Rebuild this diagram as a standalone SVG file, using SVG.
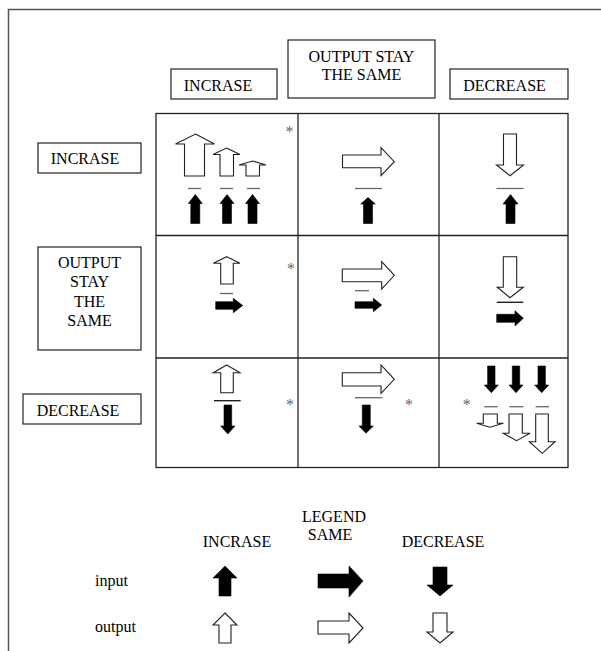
<svg xmlns="http://www.w3.org/2000/svg" width="601" height="651" viewBox="0 0 601 651">
<style>
text{font-family:"Liberation Serif","Times New Roman",serif;font-size:16px;fill:#000}
.c{text-anchor:middle}
.box{fill:#fff;stroke:#222;stroke-width:1.2}
.grid{fill:none;stroke:#222;stroke-width:1.3}
.frame{fill:none;stroke:#555;stroke-width:1.5}
.ho{fill:#fff;stroke:#222;stroke-width:1.1;stroke-linejoin:miter}
.bk{fill:#000;stroke:#000;stroke-width:0.6}
.dg{stroke:#666;stroke-width:1.3}
.db{stroke:#111;stroke-width:1.3}
.ast{font-size:16px;fill:#666;text-anchor:middle}
</style>
<rect width="601" height="651" fill="#fff"/>
<rect class="frame" x="8.5" y="9.5" width="640" height="700"/>

<g id="col-increase"><rect class="box" x="171" y="69" width="106" height="30"/><text class="c" x="218" y="91">INCRASE</text></g>
<g id="col-same"><rect class="box" x="288" y="40" width="147" height="58"/><text class="c" x="361.5" y="62">OUTPUT STAY</text><text class="c" x="361.5" y="80">THE SAME</text></g>
<g id="col-decrease"><rect class="box" x="450" y="69" width="118" height="30"/><text class="c" x="504.5" y="91">DECREASE</text></g>

<g id="row-increase"><rect class="box" x="38" y="143" width="103" height="30"/><text class="c" x="85" y="164">INCRASE</text></g>
<g id="row-same"><rect class="box" x="38" y="247" width="103" height="103"/><text class="c" x="89.5" y="268">OUTPUT</text><text class="c" x="89.5" y="287">STAY</text><text class="c" x="89.5" y="306.5">THE</text><text class="c" x="89.5" y="325.5">SAME</text></g>
<g id="row-decrease"><rect class="box" x="23" y="394" width="118" height="30"/><text class="c" x="78" y="416">DECREASE</text></g>

<g id="grid">
<rect class="grid" x="156" y="113.5" width="412" height="354"/>
<line class="grid" x1="298" y1="113.5" x2="298" y2="467.5"/>
<line class="grid" x1="439" y1="113.5" x2="439" y2="467.5"/>
<line class="grid" x1="156" y1="235.5" x2="568" y2="235.5"/>
<line class="grid" x1="156" y1="358" x2="568" y2="358"/>
</g>

<g id="cell-1-1">
<polygon class="ho" points="195.5,134 214.5,144 204.5,144 204.5,176 184.5,176 184.5,144 175.5,144"/>
<polygon class="ho" points="226.5,148 240,154.5 233.5,154.5 233.5,176 220,176 220,154.5 213,154.5"/>
<polygon class="ho" points="252.5,161 266,165 259.5,165 259.5,176 246,176 246,165 239,165"/>
<line class="dg" x1="188" y1="188.5" x2="201" y2="188.5"/>
<line class="dg" x1="220" y1="188.5" x2="233" y2="188.5"/>
<line class="dg" x1="247" y1="188.5" x2="260" y2="188.5"/>
<polygon class="bk" points="195.3,194.5 202.3,203.5 199.8,203.5 199.8,223.5 190.8,223.5 190.8,203.5 188.3,203.5"/>
<polygon class="bk" points="227,194.5 234,203.5 231.5,203.5 231.5,223.5 222.5,223.5 222.5,203.5 220,203.5"/>
<polygon class="bk" points="252.5,194.5 259.5,203.5 257,203.5 257,223.5 248,223.5 248,203.5 245.5,203.5"/>
<text class="ast" x="289.5" y="137">*</text>
</g>

<g id="cell-1-2">
<polygon class="ho" points="342.5,155 381,155 381,147.7 394.3,161.7 381,175.7 381,167.7 342.5,167.7"/>
<line class="dg" x1="355" y1="188.5" x2="382" y2="188.5"/>
<polygon class="bk" points="368,197.5 375.3,204 372.5,204 372.5,223.5 363.5,223.5 363.5,204 360.7,204"/>
</g>

<g id="cell-1-3">
<polygon class="ho" points="503.5,134 516.5,134 516.5,165 523.5,165 510,175.7 496.5,165 503.5,165"/>
<line class="dg" x1="496.5" y1="188.5" x2="523.5" y2="188.5"/>
<polygon class="bk" points="510.5,194.5 518,204 515,204 515,223.5 506,223.5 506,204 503,204"/>
</g>

<g id="cell-2-1">
<polygon class="ho" points="226.7,256.7 240,263.3 233.3,263.3 233.3,284 220.7,284 220.7,263.3 213.3,263.3"/>
<line class="dg" x1="220" y1="293.5" x2="233" y2="293.5"/>
<polygon class="bk" points="215.7,301.7 233.3,301.7 233.3,298.3 242.7,305.5 233.3,312.7 233.3,309.3 215.7,309.3"/>
<text class="ast" x="291" y="274">*</text>
</g>

<g id="cell-2-2">
<polygon class="ho" points="342.3,269 381.7,269 381.7,261.7 394.3,275.3 381.7,289 381.7,281.7 342.3,281.7"/>
<line class="dg" x1="355" y1="290.7" x2="369" y2="290.7"/>
<polygon class="bk" points="355,301.7 373.3,301.7 373.3,298.3 381.7,305 373.3,311.7 373.3,308.3 355,308.3"/>
</g>

<g id="cell-2-3">
<polygon class="ho" points="503.3,256.7 516.7,256.7 516.7,287.3 523.3,287.3 510,297.7 497.3,287.3 503.3,287.3"/>
<line class="db" x1="496.7" y1="302.3" x2="523.3" y2="302.3"/>
<polygon class="bk" points="496.7,314.3 515,314.3 515,310.7 523.3,318.3 515,326 515,322.3 496.7,322.3"/>
</g>

<g id="cell-3-1">
<polygon class="ho" points="226.7,365 240,372.7 233.3,372.7 233.3,392.7 220.7,392.7 220.7,372.7 213.3,372.7"/>
<line class="db" x1="214" y1="400.7" x2="240.7" y2="400.7"/>
<polygon class="bk" points="224,405 231.7,405 231.7,426 235,426 227.8,434 220.7,426 224,426"/>
<text class="ast" x="290" y="410">*</text>
</g>

<g id="cell-3-2">
<polygon class="ho" points="342.3,372.7 381,372.7 381,365 394.3,379.3 381,393.3 381,386 342.3,386"/>
<line class="dg" x1="355" y1="397.7" x2="382.3" y2="397.7"/>
<polygon class="bk" points="362.3,405 370.3,405 370.3,426 373.3,426 366,433.3 359,426 362.3,426"/>
<text class="ast" x="409" y="410">*</text>
</g>

<g id="cell-3-3">
<polygon class="bk" points="487.6,366 495,366 495,385 498.3,385 491.3,392.7 484.3,385 487.6,385"/>
<polygon class="bk" points="512.3,366 519.7,366 519.7,385 523,385 516,392.7 509,385 512.3,385"/>
<polygon class="bk" points="538,366 545.4,366 545.4,385 548.7,385 541.7,392.7 534.7,385 538,385"/>
<line class="dg" x1="484.3" y1="406.7" x2="497.7" y2="406.7"/>
<line class="dg" x1="509.3" y1="406.7" x2="523.3" y2="406.7"/>
<line class="dg" x1="535.7" y1="406.7" x2="549" y2="406.7"/>
<polygon class="ho" points="483.3,414 497.3,414 497.3,423.3 503.3,423.3 490,427.3 476.7,423.3 483.3,423.3"/>
<polygon class="ho" points="509,414 522.3,414 522.3,433.3 530,433.3 516.5,440.7 503.3,433.3 509,433.3"/>
<polygon class="ho" points="535.7,414 548.3,414 548.3,441.7 555,441.7 542.3,453.3 529.3,441.7 535.7,441.7"/>
<text class="ast" x="466.7" y="410">*</text>
</g>

<g id="legend">
<text class="c" x="334" y="522">LEGEND</text>
<text class="c" x="330" y="540">SAME</text>
<text class="c" x="237" y="547">INCRASE</text>
<text class="c" x="443" y="547">DECREASE</text>
<text x="95" y="586">input</text>
<text x="95" y="632">output</text>
<polygon class="bk" points="225,566 237,578 231,578 231,596 219,596 219,578 213,578"/>
<polygon class="bk" points="318,574 349,574 349,566 363,581 349,597 349,588 318,588"/>
<polygon class="bk" points="433,567 447,567 447,585 453,585 440,596 427,585 433,585"/>
<polygon class="ho" points="225,613 237,625 231,625 231,643 219,643 219,625 213,625"/>
<polygon class="ho" points="318,621 349,621 349,613 363,628 349,643 349,634 318,634"/>
<polygon class="ho" points="433,613 447,613 447,632 453,632 440,643 427,632 433,632"/>
</g>
</svg>
